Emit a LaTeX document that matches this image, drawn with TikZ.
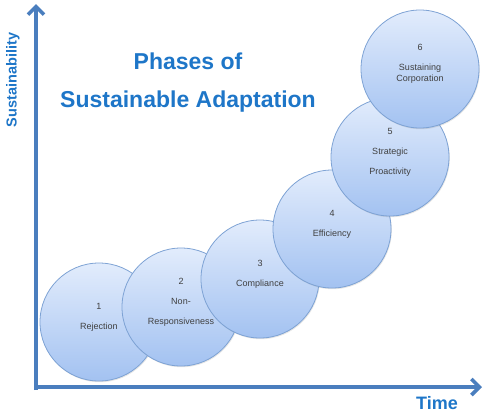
\documentclass[tikz,border=0pt]{standalone}
\usepackage{fontspec}
\setmainfont{Liberation Sans}
\usepackage{tikz}
\usetikzlibrary{positioning, arrows.meta, shadows}

\definecolor{axisblue}{RGB}{74,126,190}
\definecolor{titleblue}{RGB}{30,118,200}
\definecolor{phasetop}{RGB}{226,236,252}
\definecolor{phasebot}{RGB}{163,194,241}
\definecolor{phaseline}{RGB}{125,162,212}
\definecolor{phasetext}{RGB}{64,64,64}

\begin{document}
\begin{tikzpicture}[
    x=1pt, y=-1pt,
    phase/.style={circle, draw=phaseline, line width=0.8pt,
                  top color=phasetop, bottom color=phasebot,
                  minimum size=118pt, inner sep=0pt,
                  drop shadow={opacity=0.2, shadow xshift=0.8pt, shadow yshift=-1.2pt}},
    ptext/.style={align=center, font=\fontsize{9}{11}\selectfont, text=phasetext},
    axis/.style={line width=3.6pt, draw=axisblue,
                 -{Straight Barb[length=8pt, width=16pt]}},
    ttl/.style={align=center, text=titleblue,
                font=\fontsize{23}{38}\selectfont\bfseries},
    alabel/.style={text=titleblue, font=\bfseries},
]
\useasboundingbox (0,0) rectangle (489,416);

% axes
\coordinate (ybot) at (36,390);
\coordinate (ytop) at (36,4);
\coordinate (xleft) at (34,387);
\coordinate (xright) at (482,387);
\draw[axis] (ybot) -- (ytop);
\draw[axis] (xleft) -- (xright);
\node[alabel, font=\fontsize{14.5}{16}\selectfont\bfseries, rotate=90] (ylab) at (13,80) {Sustainability};
\node[alabel, font=\fontsize{18}{20}\selectfont\bfseries] (xlab) at (437,403) {Time};

% title
\node[ttl] (title) at (188,83) {Phases of\\Sustainable Adaptation};

% phases
\node[phase] (c1) at (99,322) {};
\node[ptext] (t1) at ([yshift=5pt]c1.center) {1\\[9pt]Rejection};
\node[phase] (c2) at (181,307) {};
\node[ptext] (t2) at ([yshift=5pt]c2.center) {2\\[9pt]Non-\\[9pt]Responsiveness};
\node[phase] (c3) at (260,279) {};
\node[ptext] (t3) at ([yshift=5pt]c3.center) {3\\[9pt]Compliance};
\node[phase] (c4) at (332,229) {};
\node[ptext] (t4) at ([yshift=5pt]c4.center) {4\\[9pt]Efficiency};
\node[phase] (c5) at (390,157) {};
\node[ptext] (t5) at ([yshift=5pt]c5.center) {5\\[9pt]Strategic\\[9pt]Proactivity};
\node[phase] (c6) at (420,69) {};
\node[ptext] (t6) at ([yshift=5pt]c6.center) {6\\[9pt]Sustaining\\Corporation};
\end{tikzpicture}
\end{document}
